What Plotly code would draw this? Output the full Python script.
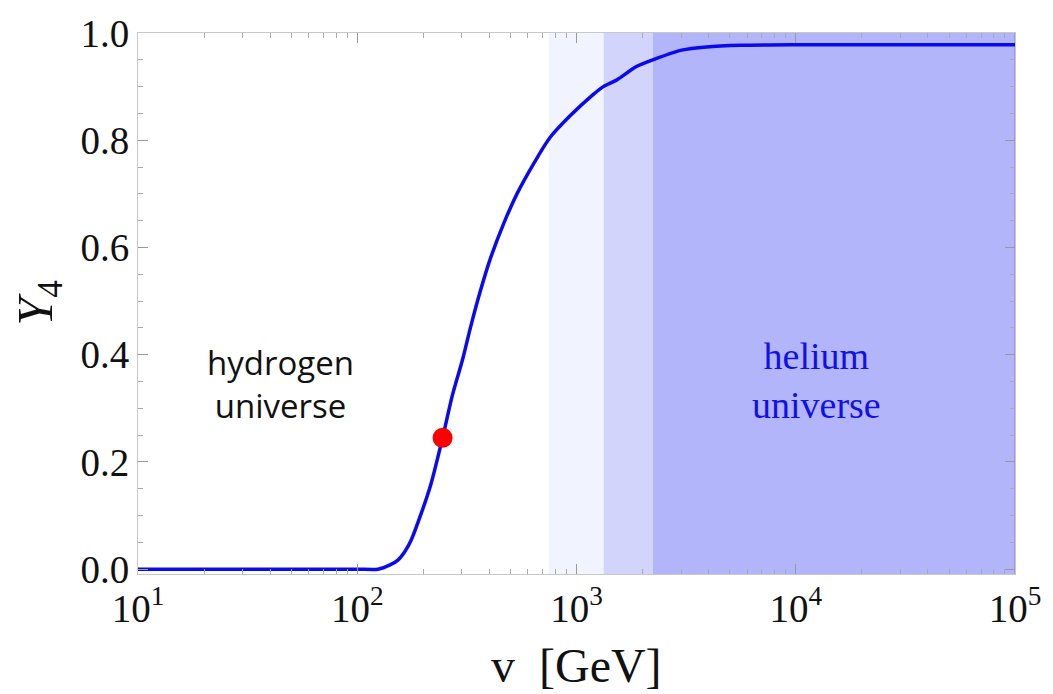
import plotly.graph_objects as go

# Data
v_gev = [10, 50, 100, 124.5, 141.1, 153.3, 164.9, 176.1, 195.4, 216.9, 245.0, 271.9, 301.8,
         329.0, 365.1, 405.3, 465.9, 535.2, 637.0, 757.3, 932.6, 1190, 1325, 1533, 1868,
         2230, 3017, 3915, 5638, 9897, 100000]
y4 = [0.0, 0.0, 0.0, 0.0, 0.008, 0.017, 0.033, 0.054, 0.103, 0.159, 0.245, 0.325, 0.39,
      0.452, 0.52, 0.58, 0.645, 0.70, 0.756, 0.805, 0.845, 0.885, 0.900, 0.913, 0.937,
      0.950, 0.968, 0.974, 0.977, 0.978, 0.978]

point_v = [245]
point_y = [0.245]

band_edges = [747, 1330, 2234, 100000]
band_colors = ["rgb(241,243,254)", "rgb(210,212,252)", "rgb(179,181,250)"]

x_tick_vals = [10, 100, 1000, 10000, 100000]
x_tick_text = ["10<sup>1</sup>", "10<sup>2</sup>", "10<sup>3</sup>", "10<sup>4</sup>", "10<sup>5</sup>"]
y_tick_vals = [0.0, 0.2, 0.4, 0.6, 0.8, 1.0]
y_tick_text = ["0.0", "0.2", "0.4", "0.6", "0.8", "1.0"]

y_lo, y_hi = -0.009, 1.0

fig = go.Figure()

for i in range(3):
    x0, x1 = band_edges[i], band_edges[i + 1]
    fig.add_trace(go.Scatter(
        x=[x0, x1, x1, x0, x0], y=[y_lo, y_lo, y_hi, y_hi, y_lo],
        mode="lines", fill="toself", fillcolor=band_colors[i],
        line=dict(width=0), hoverinfo="skip", showlegend=False))

# bluish right edge of the dark band
fig.add_trace(go.Scatter(
    x=[band_edges[-1], band_edges[-1]], y=[y_lo, y_hi], mode="lines",
    line=dict(color="rgb(140,142,245)", width=1.5), hoverinfo="skip", showlegend=False))

fig.add_trace(go.Scatter(
    x=v_gev, y=y4, mode="lines",
    line=dict(color="#0a0af0", width=3.5, shape="spline", smoothing=0.8),
    showlegend=False))

fig.add_trace(go.Scatter(
    x=point_v, y=point_y, mode="markers", marker=dict(color="#ff0000", size=20),
    showlegend=False))

serif = "Liberation Serif, Times New Roman, serif"

fig.update_layout(
    width=1053, height=694,
    margin=dict(l=138, r=31, t=29, b=120),
    plot_bgcolor="white", paper_bgcolor="white",
    showlegend=False,
    font=dict(family=serif, color="black"),
)

fig.update_xaxes(
    type="log", range=[1, 5],
    tickvals=x_tick_vals, ticktext=x_tick_text,
    tickfont=dict(family=serif, size=39, color="#111"),
    ticks="inside", ticklen=10, tickcolor="#999", tickwidth=1,
    minor=dict(ticks="inside", ticklen=5, tickcolor="#aaa", dtick="D1", showgrid=False),
    showline=True, linecolor="#c8c8c8", linewidth=1, mirror="allticks",
    showgrid=False, zeroline=False,
)
fig.update_yaxes(
    range=[y_lo, y_hi],
    tickvals=y_tick_vals, ticktext=y_tick_text,
    tickfont=dict(family=serif, size=39, color="#111"),
    ticks="inside", ticklen=10, tickcolor="#999", tickwidth=1,
    minor=dict(ticks="inside", ticklen=5, tickcolor="#aaa", dtick=0.05, showgrid=False),
    showline=True, linecolor="#c8c8c8", linewidth=1, mirror="allticks",
    showgrid=False, zeroline=False,
)

annotations = [
    dict(text="hydrogen<br>universe", xref="paper", yref="paper", x=0.163, y=0.352,
         xanchor="center", yanchor="middle", showarrow=False, align="center",
         font=dict(family="Open Sans, Lato, sans-serif", size=33, color="#111")),
    dict(text="helium<br>universe", xref="paper", yref="paper", x=0.774, y=0.358,
         xanchor="center", yanchor="middle", showarrow=False, align="center",
         font=dict(family=serif, size=38, color="#1010e8")),
    dict(text="v\u00a0\u00a0[GeV]", xref="paper", yref="paper", x=0.5, y=-0.169,
         xanchor="center", yanchor="middle", showarrow=False,
         font=dict(family=serif, size=48, color="#111")),
    dict(text="<i>Y</i><sub>4</sub>", xref="paper", yref="paper", x=-0.114, y=0.5,
         xanchor="center", yanchor="middle", showarrow=False, textangle=-90,
         font=dict(family=serif, size=50, color="#111")),
]
fig.update_layout(annotations=annotations)

fig.write_html("out.html")
